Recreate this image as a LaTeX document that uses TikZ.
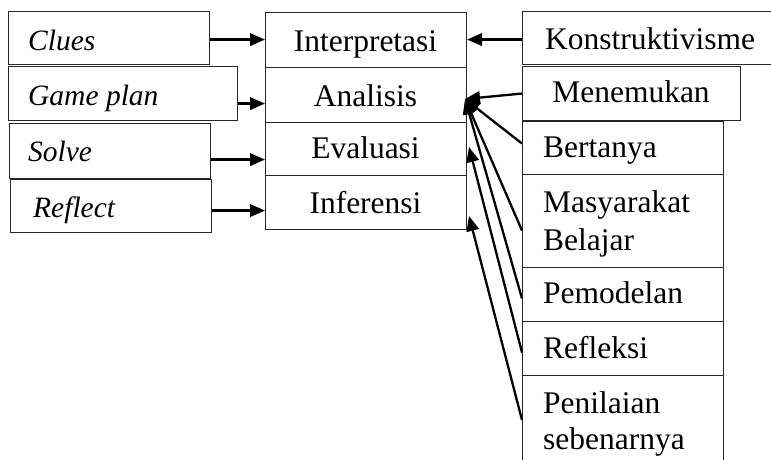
\documentclass[tikz,border=0pt]{standalone}
\usepackage{fontspec}
\setmainfont{Liberation Serif}
\usetikzlibrary{arrows.meta}
\tikzset{
  box/.style={draw=black!85, line width=1.1pt, inner sep=0pt, anchor=north west},
  txt/.style={inner sep=0pt, font=\fontsize{31.5}{36}\selectfont},
  itxt/.style={inner sep=0pt, font=\fontsize{29.5}{36}\selectfont\itshape},
  arr/.style={line width=2.3pt, -{Triangle[length=15pt,width=12.5pt]}},
}
\begin{document}
\begin{tikzpicture}[x=1pt,y=-1pt]
\useasboundingbox (0,0) rectangle (771,459);
% left boxes
\path (8,11) node[box, minimum width=201pt, minimum height=53pt] (clues) {};
\path (8,66) node[box, minimum width=229pt, minimum height=54pt] (game) {};
\path (9,123) node[box, minimum width=201pt, minimum height=55pt] (solve) {};
\path (10,179) node[box, minimum width=201pt, minimum height=53pt] (reflect) {};
% middle boxes
\path (265,12) node[box, minimum width=201pt, minimum height=55pt] (interp) {};
\path (265,67) node[box, minimum width=201pt, minimum height=55pt] (anal) {};
\path (265,122) node[box, minimum width=201pt, minimum height=53pt] (eval) {};
\path (265,175) node[box, minimum width=201pt, minimum height=54pt] (infer) {};
% right boxes
\path (522,11) node[box, minimum width=258pt, minimum height=53pt] (konst) {};
\path (522,66) node[box, minimum width=218pt, minimum height=54pt] (menem) {};
\path (522,121) node[box, minimum width=201pt, minimum height=53pt] (bert) {};
\path (522,174) node[box, minimum width=201pt, minimum height=93pt] (masy) {};
\path (522,267) node[box, minimum width=201pt, minimum height=54pt] (pemod) {};
\path (522,321) node[box, minimum width=201pt, minimum height=54pt] (refl) {};
\path (522,375) node[box, minimum width=201pt, minimum height=100pt] (penil) {};
% texts
\node[itxt, anchor=base west] (tclues) at (28,50) {Clues};
\node[itxt, anchor=base west] (tgame) at (28,105) {Game plan};
\node[itxt, anchor=base west] (tsolve) at (28,161) {Solve};
\node[itxt, anchor=base west] (treflect) at (33,217) {Reflect};
\node[txt, anchor=base] (tinterp) at (365.5,51) {Interpretasi};
\node[txt, anchor=base] (tanal) at (365.5,106) {Analisis};
\node[txt, anchor=base] (teval) at (365.5,158) {Evaluasi};
\node[txt, anchor=base] (tinfer) at (365.5,213) {Inferensi};
\node[txt, anchor=base] (tkonst) at (650,49) {Konstruktivisme};
\node[txt, anchor=base] (tmenem) at (631,102) {Menemukan};
\node[txt, anchor=base west] (tbert) at (543,157) {Bertanya};
\node[txt, anchor=base west] (tmasy1) at (543,212) {Masyarakat};
\node[txt, anchor=base west] (tmasy2) at (543,250) {Belajar};
\node[txt, anchor=base west] (tpemod) at (543,303) {Pemodelan};
\node[txt, anchor=base west] (trefl) at (543,358) {Refleksi};
\node[txt, anchor=base west] (tpenil1) at (543,413) {Penilaian};
\node[txt, anchor=base west] (tpenil2) at (543,449) {sebenarnya};
% tips
\coordinate (antip) at (465,99);
\coordinate (evtip) at (469,147);
\coordinate (inftip) at (469,216);
% left arrows
\draw[arr] ([yshift=-1.5pt]clues.east) -- ([yshift=0.5pt]interp.west);
\draw[arr] ([yshift=-10pt]game.east) -- ([yshift=-8.5pt]anal.west);
\draw[arr] ([yshift=-8.5pt]solve.east) -- ([yshift=-10.5pt]eval.west);
\draw[arr] ([yshift=-4.5pt]reflect.east) -- ([yshift=-8pt]infer.west);
% right arrows
\draw[arr] ([yshift=-1.5pt]konst.west) -- ([yshift=0.5pt]interp.east);
\draw[arr] (menem.west) -- (antip);
\draw[arr] ([yshift=4.5pt]bert.west) -- (antip);
\draw[arr] ([yshift=-9.5pt]masy.west) -- (antip);
\draw[arr] ([yshift=-4pt]pemod.west) -- (antip);
\draw[arr] ([yshift=-4pt]refl.west) -- (evtip);
\draw[arr] ([yshift=-45pt]penil.north west) -- (inftip);
\end{tikzpicture}
\end{document}
